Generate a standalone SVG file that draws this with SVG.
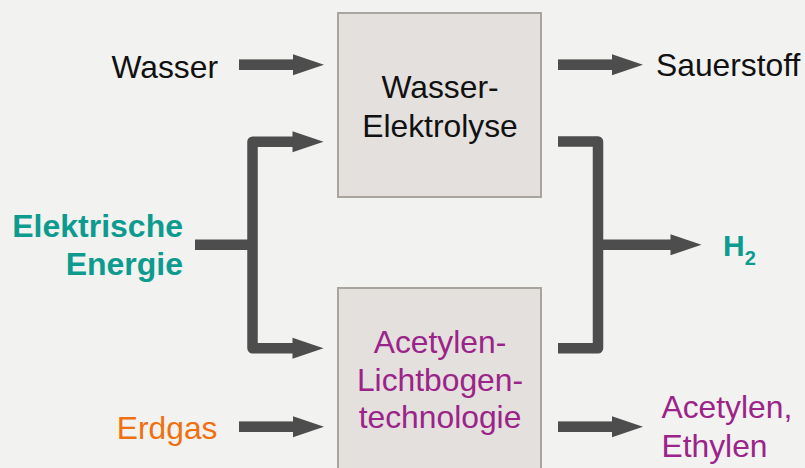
<svg xmlns="http://www.w3.org/2000/svg" width="805" height="468" viewBox="0 0 805 468">
  <defs>
    <style>
      .lbl { font-family: "Liberation Sans", Arial, sans-serif; font-size: 31.8px; }
      .dark { fill: #111111; }
      .teal { fill: #0e9b8f; font-weight: bold; font-size: 32px; }
      .purple { fill: #9b2389; }
      .orange { fill: #f07010; }
      .box { fill: #e3e0dd; stroke: #a9a49e; stroke-width: 2; }
      .flow { fill: none; stroke: #4d4d4d; stroke-width: 10.5; stroke-linejoin: round; stroke-linecap: butt; }
      .head { fill: #4d4d4d; }
    </style>
    <!-- straight arrow: shaft 54px, head 31px, starting at origin, pointing right -->
    <g id="arrow">
      <rect x="0" y="-5.3" width="55" height="10.6" class="head"/>
      <polygon points="54,-10.5 85,0 54,10.5" class="head"/>
    </g>
    <polygon id="tip" points="0,-10.5 31,0 0,10.5" class="head"/>
  </defs>

  <rect x="0" y="0" width="805" height="468" fill="#f2f2f0"/>

  <g id="connectors">
    <!-- simple inputs / outputs -->
    <use href="#arrow" x="239" y="64.7"/>
    <use href="#arrow" x="558" y="64.7"/>
    <use href="#arrow" x="239" y="426.7"/>
    <use href="#arrow" x="558" y="426.7"/>

    <!-- electric power split to both processes -->
    <path class="flow" d="M195 244.7 H252.5"/>
    <path class="flow" d="M293 141.7 H252.5 V348.3 H293"/>
    <use href="#tip" x="292.5" y="141.7"/>
    <use href="#tip" x="292.5" y="348.3"/>

    <!-- hydrogen merge from both processes -->
    <path class="flow" d="M558 141.5 H598 V348.3 H558"/>
    <path class="flow" d="M598 244.7 H671"/>
    <use href="#tip" x="670.5" y="244.7"/>
  </g>

  <g id="node-elektrolyse">
    <rect class="box" x="338" y="13" width="203" height="184"/>
    <text class="lbl dark" text-anchor="middle" x="440" y="97.5">Wasser-</text>
    <text class="lbl dark" text-anchor="middle" x="440" y="136.7">Elektrolyse</text>
  </g>

  <g id="node-lichtbogen">
    <rect class="box" x="338" y="288" width="203" height="200"/>
    <text class="lbl purple" text-anchor="middle" x="440" y="352.5">Acetylen-</text>
    <text class="lbl purple" text-anchor="middle" x="440" y="390.5">Lichtbogen-</text>
    <text class="lbl purple" text-anchor="middle" x="440" y="428.3">technologie</text>
  </g>

  <g id="node-wasser">
    <text class="lbl dark" text-anchor="end" x="218" y="78">Wasser</text>
  </g>

  <g id="node-strom">
    <text class="lbl teal" text-anchor="end" x="183" y="237">Elektrische</text>
    <text class="lbl teal" text-anchor="end" x="183" y="275">Energie</text>
  </g>

  <g id="node-erdgas">
    <text class="lbl orange" text-anchor="end" x="217.5" y="439">Erdgas</text>
  </g>

  <g id="node-sauerstoff">
    <text class="lbl dark" x="656" y="76">Sauerstoff</text>
  </g>

  <g id="node-h2">
    <text class="lbl teal" x="723" y="256" style="font-size:30px">H<tspan font-size="20" dy="9">2</tspan></text>
  </g>

  <g id="node-produkte">
    <text class="lbl purple" x="661.5" y="418.3">Acetylen,</text>
    <text class="lbl purple" x="661.5" y="457.3">Ethylen</text>
  </g>
</svg>
